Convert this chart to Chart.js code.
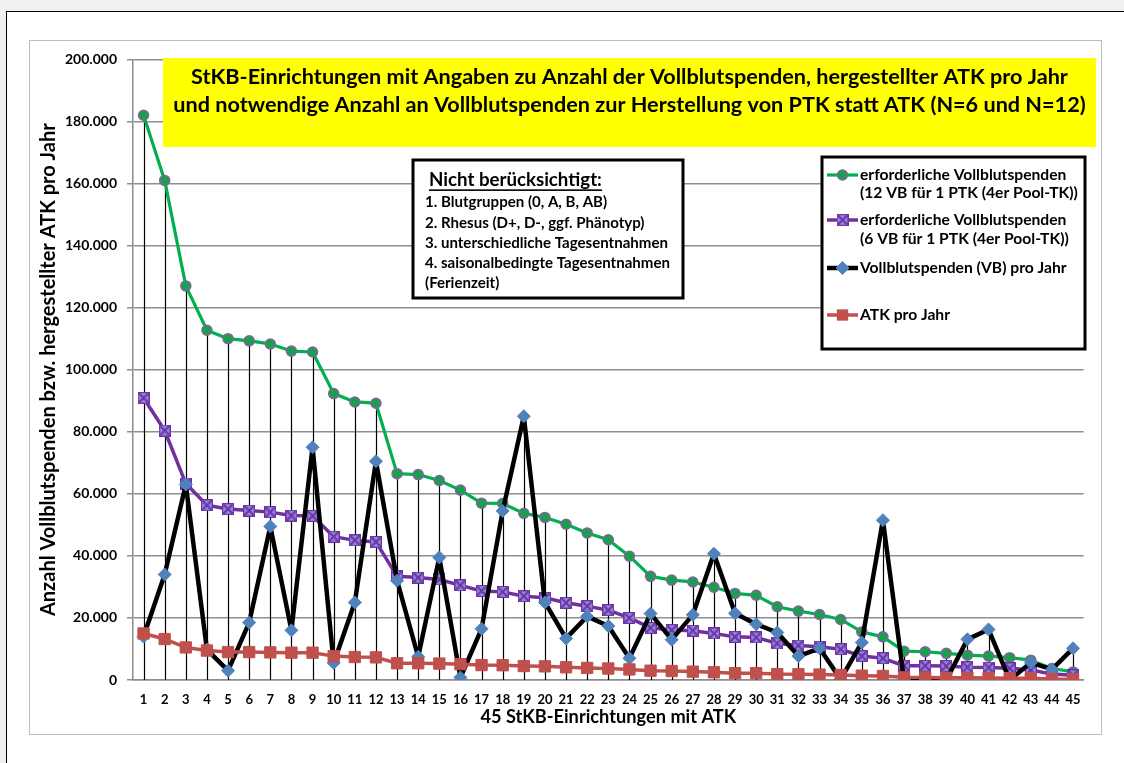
<!DOCTYPE html>
<html><head><meta charset="utf-8">
<script src="https://cdn.jsdelivr.net/npm/chart.js@4.4.1/dist/chart.umd.min.js"></script>
<style>
html,body{margin:0;padding:0;background:#f0f0f0;width:1124px;height:763px;overflow:hidden;}
#frame{position:absolute;left:6px;top:11px;width:1140px;height:800px;border:1.5px solid #000;background:#fff;}
#wrap{position:absolute;left:29px;top:40px;width:1071px;height:693px;border:1px solid #bdbdbd;background:#fff;}
canvas{display:block;}
</style></head>
<body>
<div id="frame"></div>
<div id="wrap"><canvas id="c" width="1071" height="693"></canvas></div>
<script>
const categories = ['1','2','3','4','5','6','7','8','9','10','11','12','13','14','15','16','17','18','19','20','21','22','23','24','25','26','27','28','29','30','31','32','33','34','35','36','37','38','39','40','41','42','43','44','45'];
const vb12 = [182000,161000,127000,112700,110000,109300,108300,106000,105700,92300,89600,89200,66500,66200,64300,61200,57000,56900,53700,52400,50200,47400,45200,39900,33400,32200,31600,29900,27900,27300,23600,22200,21100,19500,15500,13900,9300,9100,8600,8000,7700,7200,6400,3700,2600];
const vb6 = [90900,80400,63300,56300,55100,54600,54100,53000,52900,46200,45000,44500,33400,33000,32400,30500,28700,28400,27000,26500,24900,23800,22500,20000,16800,16100,15900,15000,13900,13700,11800,11100,10700,9900,7700,7000,4600,4600,4500,4100,4000,3750,3200,1900,1500];
const vbJahr = [14000,34000,63000,9800,3000,18500,49500,16000,75000,5500,25000,70500,32000,7500,39500,800,16500,54500,85000,25000,13400,20500,17400,7000,21400,13000,21000,40700,21500,18000,15300,7700,10200,200,12100,51500,0,500,0,13100,16300,0,5600,3400,10200];
const atkJahr = [15000,13200,10500,9500,9000,9000,8900,8800,8800,7700,7400,7300,5400,5400,5300,5100,4800,4750,4500,4400,4100,3900,3700,3400,3000,2900,2700,2500,2200,2200,1900,1850,1750,1600,1400,1300,850,800,750,700,650,600,550,300,200];
const yTicks = [0,20000,40000,60000,80000,100000,120000,140000,160000,180000,200000];
const seriesNames = [
  ['erforderliche Vollblutspenden','(12 VB für 1 PTK (4er Pool-TK))'],
  ['erforderliche Vollblutspenden','(6 VB für 1 PTK (4er Pool-TK))'],
  ['Vollblutspenden (VB) pro Jahr'],
  ['ATK pro Jahr']
];
const titleLines = ['StKB-Einrichtungen mit Angaben zu Anzahl der Vollblutspenden, hergestellter ATK pro Jahr',
                    'und notwendige Anzahl an Vollblutspenden zur Herstellung von PTK statt ATK (N=6 und N=12)'];
const noteHeader = 'Nicht berücksichtigt:';
const noteLines = ['1. Blutgruppen (0, A, B, AB)','2. Rhesus (D+, D-, ggf. Phänotyp)','3. unterschiedliche Tagesentnahmen','4. saisonalbedingte Tagesentnahmen','(Ferienzeit)'];
const xTitle = '45 StKB-Einrichtungen mit ATK';
const yTitle = 'Anzahl Vollblutspenden bzw. hergestellter ATK pro Jahr';

const FAM = 'Lato, "Open Sans", sans-serif';
const mctx = document.createElement('canvas').getContext('2d');
function fit(text, target){ mctx.font = 'bold 100px ' + FAM; return 100*target/mctx.measureText(text).width; }
function fmt(v){ return String(v).replace(/\B(?=(\d{3})+(?!\d))/g,'.'); }

// purple marker image
const pm = document.createElement('canvas'); pm.width = 12; pm.height = 12;
(function(){ const g = pm.getContext('2d'); g.fillStyle='#8b8be0'; g.fillRect(0.5,0.5,11,11);
  g.strokeStyle='#7030a0'; g.lineWidth=1.2; g.strokeRect(0.6,0.6,10.8,10.8);
  g.lineWidth=1.8; g.beginPath(); g.moveTo(1.5,1.5); g.lineTo(10.5,10.5); g.moveTo(10.5,1.5); g.lineTo(1.5,10.5); g.stroke(); })();

const styles = [
  {color:'#00b050', width:3.2, pointStyle:'circle', radius:5, bg:'#1aa04a', bc:'#8064a2', bw:1.5},
  {color:'#7030a0', width:3.5, pointStyle:pm, radius:6, bg:'#8b8be0', bc:'#7030a0', bw:1},
  {color:'#000000', width:4.5, pointStyle:'rectRot', radius:6.5, bg:'#4f81bd', bc:'#4f81bd', bw:1},
  {color:'#c0504d', width:3.5, pointStyle:'rect', radius:8, bg:'#c0504d', bc:'#c0504d', bw:1}
];
const values = [vb12, vb6, vbJahr, atkJahr];

const dropLines = {
  id:'dropLines',
  beforeDatasetsDraw(chart){
    const {ctx, scales:{x,y}} = chart;
    ctx.save(); ctx.strokeStyle='#000'; ctx.lineWidth=1.2;
    categories.forEach((c,i)=>{
      const m = Math.max(...values.map(a=>a[i]));
      const px = Math.round(x.getPixelForValue(i))+0.5;
      ctx.beginPath(); ctx.moveTo(px, y.getPixelForValue(m)); ctx.lineTo(px, y.getPixelForValue(0)); ctx.stroke();
    });
    ctx.restore();
  }
};

function drawMarker(ctx, s, x, y){
  ctx.save();
  ctx.fillStyle = s.bg; ctx.strokeStyle = s.bc; ctx.lineWidth = s.bw;
  if (s.pointStyle === 'circle'){ ctx.beginPath(); ctx.arc(x,y,s.radius,0,Math.PI*2); ctx.fill(); ctx.stroke(); }
  else if (s.pointStyle === 'rectRot'){ const r=s.radius; ctx.beginPath(); ctx.moveTo(x-r,y); ctx.lineTo(x,y-r); ctx.lineTo(x+r,y); ctx.lineTo(x,y+r); ctx.closePath(); ctx.fill(); ctx.stroke(); }
  else if (s.pointStyle === 'rect'){ const h=s.radius*Math.SQRT1_2; ctx.fillRect(x-h,y-h,2*h,2*h); }
  else { ctx.drawImage(s.pointStyle, x-6, y-6); }
  ctx.restore();
}

const boxes = {
  id:'boxes',
  afterDraw(chart){
    const ctx = chart.ctx;
    ctx.save();
    // title box
    ctx.fillStyle = '#ffff00'; ctx.fillRect(133,17,933,89);
    ctx.fillStyle = '#000'; ctx.textAlign='center'; ctx.textBaseline='middle';
    const ts = fit(titleLines[1], 913);
    ctx.font = 'bold ' + ts + 'px ' + FAM;
    ctx.fillText(titleLines[0], 599.5, 36);
    ctx.fillText(titleLines[1], 599.5, 64);
    // note box
    ctx.fillStyle='#fff'; ctx.fillRect(383,119,270,138);
    ctx.strokeStyle='#000'; ctx.lineWidth=3; ctx.strokeRect(383,119,270,138);
    ctx.fillStyle='#000'; ctx.textAlign='left';
    const hs = fit(noteHeader, 173);
    ctx.font = 'bold ' + hs + 'px ' + FAM;
    ctx.fillText(noteHeader, 399, 139);
    ctx.fillRect(399, 139 + hs*0.5, 173, 1.6);
    const ns = fit(noteLines[2], 243);
    ctx.font = 'bold ' + ns + 'px ' + FAM;
    const ny = [161,182,202,222,242];
    noteLines.forEach((t,i)=>ctx.fillText(t, 395, ny[i]));
    // legend box
    ctx.fillStyle='#fff'; ctx.fillRect(792,116,263,192);
    ctx.strokeStyle='#000'; ctx.lineWidth=3; ctx.strokeRect(792,116,263,192);
    const ls = Math.min(fit(seriesNames[0][0], 217), fit(seriesNames[0][1], 218));
    ctx.font = 'bold ' + ls + 'px ' + FAM;
    const ly = [[134,152],[179,198],[227],[274]];
    seriesNames.forEach((lines,i)=>{
      const s = styles[i];
      ctx.strokeStyle = s.color; ctx.lineWidth = s.width;
      ctx.beginPath(); ctx.moveTo(797, ly[i][0]); ctx.lineTo(828, ly[i][0]); ctx.stroke();
      drawMarker(ctx, s, 812.5, ly[i][0]);
      ctx.fillStyle='#000';
      lines.forEach((t,j)=>ctx.fillText(t, 830, ly[i][j]));
    });
    ctx.restore();
  }
};

const yTitleSize = fit(yTitle, 493);
const xTitleSize = fit(xTitle, 256);

new Chart(document.getElementById('c'), {
  type:'line',
  data:{
    labels: categories,
    datasets: values.map((v,i)=>({
      label: seriesNames[i].join(' '),
      data: v,
      borderColor: styles[i].color,
      borderWidth: styles[i].width,
      borderJoinStyle: 'round',
      borderCapStyle: 'round',
      pointStyle: styles[i].pointStyle,
      pointRadius: styles[i].radius,
      pointHoverRadius: styles[i].radius,
      pointBackgroundColor: styles[i].bg,
      pointBorderColor: styles[i].bc,
      pointBorderWidth: styles[i].bw,
      tension: 0,
      fill: false,
      order: 4 - i
    }))
  },
  options:{
    responsive:false, animation:false, events:[],
    layout:{padding:{top:17,right:17.4,left:0,bottom:0}},
    plugins:{legend:{display:false}, tooltip:{enabled:false}},
    scales:{
      x:{
        offset:true,
        grid:{display:false},
        border:{display:true,color:'#8c8c8c',width:1.5},
        ticks:{autoSkip:false,maxRotation:0,minRotation:0,color:'#000',padding:4,font:{family:FAM,weight:'bold',size:13}},
        title:{display:true,text:xTitle,color:'#000',font:{family:FAM,weight:'bold',size:xTitleSize},padding:{top:0,bottom:6}},
        afterFit(s){ s.height = 54; }
      },
      y:{
        min:0,max:200000,
        afterBuildTicks(s){ s.ticks = yTicks.map(v=>({value:v})); },
        grid:{color:'#8f8f8f',lineWidth:1.5,tickLength:6,drawTicks:true},
        border:{display:true,color:'#8c8c8c',width:1.5},
        ticks:{color:'#000',padding:10,font:{family:FAM,weight:'bold',size:14},callback:v=>fmt(v)},
        title:{display:true,text:yTitle,color:'#000',font:{family:FAM,weight:'bold',size:yTitleSize},padding:{top:7,bottom:0}},
        afterFit(s){ s.width = 103; }
      }
    }
  },
  plugins:[dropLines, boxes]
});
</script>
</body></html>
